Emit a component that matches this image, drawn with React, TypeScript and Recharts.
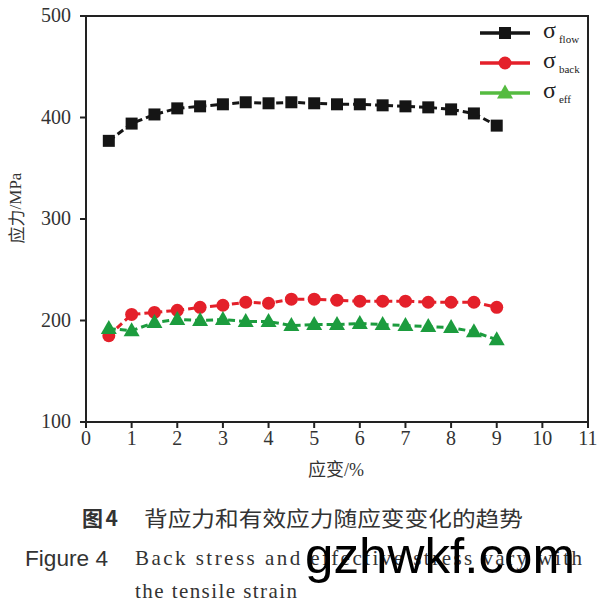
import React from 'react';
import { LineChart, Line, XAxis, YAxis, ReferenceArea, Legend, Label } from 'recharts';

const strain = [0.5, 1, 1.5, 2, 2.5, 3, 3.5, 4, 4.5, 5, 5.5, 6, 6.5, 7, 7.5, 8, 8.5, 9];
const flowStress = [377, 394, 403, 409, 411, 413, 415, 414, 415, 414, 413, 413, 412, 411, 410, 408, 404, 392];
const backStress = [185, 206, 208, 210, 213, 215, 218, 217, 221, 221, 220, 219, 219, 219, 218, 218, 218, 213];
const effStress = [192, 190, 198, 201, 200, 201, 199, 199, 195, 196, 196, 197, 196, 195, 194, 193, 189, 181];
const xTicks = [0, 1, 2, 3, 4, 5, 6, 7, 8, 9, 10, 11];
const yTicks = [100, 200, 300, 400, 500];

const data = strain.map((s, i) => ({ strain: s, flow: flowStress[i], back: backStress[i], eff: effStress[i] }));

type Shape = 'square' | 'circle' | 'triangle';
const series: { key: string; name: string; color: string; legendColor: string; shape: Shape }[] = [
  { key: 'flow', name: 'flow', color: '#151515', legendColor: '#151515', shape: 'square' },
  { key: 'back', name: 'back', color: '#e4202a', legendColor: '#e4202a', shape: 'circle' },
  { key: 'eff', name: 'eff', color: '#1c9c3e', legendColor: '#55bb40', shape: 'triangle' },
];

const marker = (shape: Shape, cx: number, cy: number, color: string, key: string) => {
  if (shape === 'square') return <rect key={key} x={cx - 6} y={cy - 6} width={12} height={12} fill={color} />;
  if (shape === 'circle') return <circle key={key} cx={cx} cy={cy} r={6.5} fill={color} />;
  return <polygon key={key} points={`${cx},${cy - 8.5} ${cx - 8},${cy + 5.5} ${cx + 8},${cy + 5.5}`} fill={color} />;
};

const makeDot = (shape: Shape, color: string) => (props: any) => {
  const { cx, cy, index } = props;
  if (cx == null || cy == null) return <g key={`e${index}`} />;
  return marker(shape, cx, cy, color, `${shape}${index}`);
};

const serif = '"Liberation Serif", "Times New Roman", serif';
const sans = '"Liberation Sans", Arial, sans-serif';
const cjk = '"Noto Sans CJK SC", sans-serif';

const renderLegend = () => (
  <div style={{ display: 'flex', flexDirection: 'column' }}>
    {series.map((s) => (
      <div key={s.key} style={{ height: 30, display: 'flex', alignItems: 'center' }}>
        <svg width={52} height={20} style={{ display: 'block' }}>
          <line x1={1} y1={10} x2={51} y2={10} stroke={s.legendColor} strokeWidth={3.5} />
          {marker(s.shape, 26, 10, s.legendColor, 'm')}
        </svg>
        <span style={{ marginLeft: 12, fontFamily: serif, fontSize: 24, color: '#222', lineHeight: '24px', position: 'relative', top: -1 }}>
          σ<span style={{ fontSize: 11, position: 'relative', top: 5, marginLeft: 3 }}>{s.name}</span>
        </span>
      </div>
    ))}
  </div>
);

const XTick = (props: any) => {
  const { x, y, payload } = props;
  return (
    <text x={x} y={y + 12} textAnchor="middle" fontFamily={serif} fontSize={20} fill="#333">
      {payload.value}
    </text>
  );
};

const YTick = (props: any) => {
  const { x, y, payload } = props;
  return (
    <text x={x - 2} y={y + 6} textAnchor="end" fontFamily={serif} fontSize={20} fill="#333">
      {payload.value}
    </text>
  );
};

export default function App() {
  return (
    <div style={{ position: 'absolute', left: 0, top: 0, width: 607, height: 604, background: '#fff', overflow: 'hidden' }}>
      <LineChart width={607} height={480} data={data} margin={{ top: 16, right: 19, bottom: 18, left: 16 }}>
        <XAxis
          dataKey="strain"
          type="number"
          domain={[0, 11]}
          ticks={xTicks}
          interval={0}
          allowDataOverflow
          height={40}
          tick={<XTick />}
          tickSize={6}
          tickMargin={5}
          axisLine={{ stroke: '#222', strokeWidth: 2 }}
          tickLine={{ stroke: '#222', strokeWidth: 2 }}
        >
          <Label
            content={(p: any) => {
              const vb = p.viewBox || { x: 86, y: 422, width: 502 };
              return (
                <text x={vb.x + vb.width / 2 - 1} y={vb.y + 54} textAnchor="middle" fontSize={18} fill="#333">
                  <tspan fontFamily={cjk}>应变</tspan>
                  <tspan fontFamily={serif}>/%</tspan>
                </text>
              );
            }}
          />
        </XAxis>
        <YAxis
          type="number"
          domain={[100, 500]}
          ticks={yTicks}
          interval={0}
          width={70}
          tick={<YTick />}
          tickSize={6}
          tickMargin={7}
          axisLine={{ stroke: '#222', strokeWidth: 2 }}
          tickLine={{ stroke: '#222', strokeWidth: 2 }}
        >
          <Label
            content={(p: any) => {
              const vb = p.viewBox || { x: 16, y: 16, height: 406 };
              const cx = vb.x - 1;
              const cy = vb.y + 192;
              return (
                <text x={cx} y={cy} textAnchor="middle" dominantBaseline="central" fontSize={17} fill="#333" transform={`rotate(-90 ${cx} ${cy})`}>
                  <tspan fontFamily={cjk}>应力</tspan>
                  <tspan fontFamily={serif}>/MPa</tspan>
                </text>
              );
            }}
          />
        </YAxis>
        <ReferenceArea x1={0} x2={11} y1={100} y2={500} fill="none" stroke="#222" strokeWidth={2} ifOverflow="visible" />
        {series.map((s) => (
          <Line
            key={s.key}
            dataKey={s.key}
            name={s.name}
            type="linear"
            stroke={s.color}
            strokeWidth={3}
            strokeDasharray="7 4"
            dot={makeDot(s.shape, s.color)}
            activeDot={false}
            isAnimationActive={false}
          />
        ))}
        <Legend
          layout="horizontal"
          verticalAlign="middle"
          align="center"
          content={renderLegend}
          wrapperStyle={{ position: 'absolute', left: 479, top: 18, width: 128, height: 90 }}
        />
      </LineChart>
      <svg width={607} height={124} style={{ position: 'absolute', left: 0, top: 480 }}>
        <text x={82} y={46} fontFamily={cjk} fontWeight={700} fontSize={21} fill="#333" textLength={36} lengthAdjust="spacing">图4</text>
        <text x={144} y={46} fontFamily={cjk} fontSize={21} fill="#333" textLength={379} lengthAdjust="spacingAndGlyphs">
          背应力和有效应力随应变变化的趋势
        </text>
        <text x={25} y={86} fontFamily={sans} fontSize={22} fill="#333" textLength={83} lengthAdjust="spacingAndGlyphs">Figure 4</text>
        <text x={135} y={85} fontFamily={serif} fontSize={21} fill="#333" textLength={447} lengthAdjust="spacing">
          Back stress and effective stress vary with
        </text>
        <text x={135} y={118} fontFamily={serif} fontSize={21} fill="#333" textLength={162} lengthAdjust="spacing">the tensile strain</text>
        <text x={305} y={93} fontFamily={sans} fontSize={50} fill="#000" textLength={270} lengthAdjust="spacingAndGlyphs">
          gzhwkf.com
        </text>
      </svg>
    </div>
  );
}
